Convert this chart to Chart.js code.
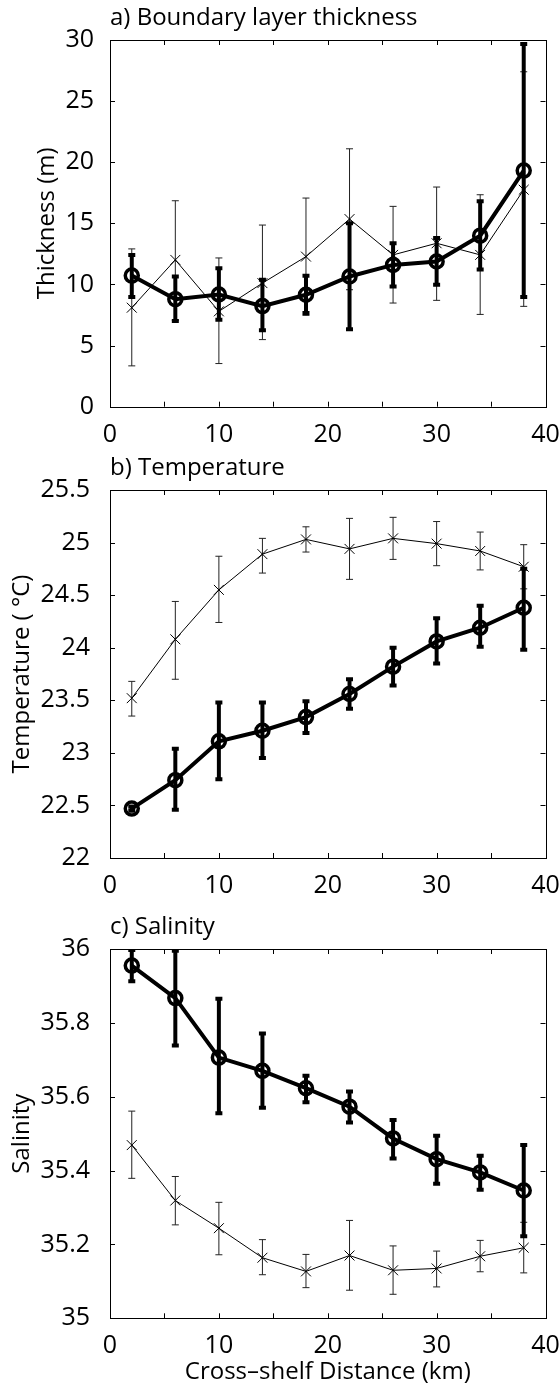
<!DOCTYPE html>
<html lang="en">
<head>
  <meta charset="UTF-8" />
  <title>Cross-shelf profiles</title>
  <style>
    html, body { margin: 0; padding: 0; background: #fff; overflow: hidden; }
    body { width: 559px; height: 1384px; position: relative; }
    canvas { position: absolute; left: 0; }
  </style>
</head>
<body>
  <canvas id="chartThickness" width="600" height="450" style="top:0px"></canvas>
  <canvas id="chartTemp" width="600" height="459" style="top:450px"></canvas>
  <canvas id="chartSalt" width="600" height="475" style="top:909px"></canvas>

  <script src="https://cdn.jsdelivr.net/npm/chart.js"></script>
  <script>
    // cross-shelf distance (km) of each bin
    const distance = [2, 6, 10, 14, 18, 22, 26, 30, 34, 38];

    // a) boundary layer thickness (m): thick line with circles, thin line with crosses
    const thickBold = [10.73, 8.80, 9.18, 8.23, 9.16, 10.65, 11.60, 11.88, 13.99, 19.32];
    const thickBoldLo = [8.97, 7.01, 7.12, 6.25, 7.66, 6.33, 9.84, 9.97, 11.22, 8.97];
    const thickBoldHi = [12.42, 10.65, 11.33, 10.38, 10.71, 15.0, 13.37, 13.80, 16.8, 29.67];
    const thickThin = [8.10, 12.01, 7.80, 10.11, 12.28, 15.35, 12.42, 13.37, 12.42, 17.75];
    const thickThinLo = [3.34, 7.07, 3.53, 5.49, 7.47, 9.57, 8.48, 8.70, 7.55, 8.21];
    const thickThinHi = [12.91, 16.85, 12.17, 14.86, 17.07, 21.1, 16.39, 17.97, 17.34, 27.4];

    // b) temperature (deg C)
    const tempBold = [22.47, 22.74, 23.11, 23.21, 23.34, 23.56, 23.82, 24.06, 24.19, 24.38];
    const tempBoldLo = [22.45, 22.46, 22.75, 22.95, 23.19, 23.42, 23.64, 23.85, 24.01, 23.98];
    const tempBoldHi = [22.49, 23.04, 23.48, 23.48, 23.49, 23.70, 24.00, 24.28, 24.40, 24.75];
    const tempThin = [23.52, 24.08, 24.55, 24.89, 25.03, 24.94, 25.04, 24.99, 24.92, 24.77];
    const tempThinLo = [23.35, 23.70, 24.24, 24.71, 24.91, 24.65, 24.84, 24.78, 24.74, 24.56];
    const tempThinHi = [23.68, 24.44, 24.87, 25.04, 25.15, 25.23, 25.24, 25.20, 25.10, 24.98];

    // c) salinity
    const saltBold = [35.955, 35.867, 35.706, 35.670, 35.623, 35.573, 35.487, 35.431, 35.395, 35.346];
    const saltBoldLo = [35.913, 35.739, 35.555, 35.570, 35.585, 35.530, 35.433, 35.364, 35.348, 35.222];
    const saltBoldHi = [35.997, 35.995, 35.865, 35.771, 35.657, 35.614, 35.537, 35.494, 35.440, 35.469];
    const saltThin = [35.469, 35.319, 35.244, 35.164, 35.127, 35.170, 35.130, 35.135, 35.168, 35.191];
    const saltThinLo = [35.379, 35.253, 35.172, 35.118, 35.083, 35.076, 35.065, 35.085, 35.126, 35.123];
    const saltThinHi = [35.561, 35.384, 35.314, 35.213, 35.173, 35.265, 35.196, 35.182, 35.211, 35.26];

    Chart.defaults.font.family = "'Open Sans', sans-serif";
    Chart.defaults.color = '#000';

    // vertical error bars with caps, drawn just under each dataset
    const errorBars = {
      id: 'errorBars',
      beforeDatasetDraw(chart, args) {
        const ds = chart.data.datasets[args.index];
        if (!ds.errLow) return;
        const { ctx, chartArea: a, scales: { x, y } } = chart;
        ctx.save();
        ctx.beginPath();
        ctx.rect(a.left, a.top, a.right - a.left, a.bottom - a.top);
        ctx.clip();
        ctx.strokeStyle = ds.errColor;
        ctx.lineWidth = ds.errWidth;
        ds.data.forEach((p, i) => {
          const px = x.getPixelForValue(p.x);
          const lo = y.getPixelForValue(ds.errLow[i]);
          const hi = y.getPixelForValue(ds.errHigh[i]);
          ctx.beginPath();
          ctx.moveTo(px, lo);
          ctx.lineTo(px, hi);
          ctx.moveTo(px - ds.capHalf, lo);
          ctx.lineTo(px + ds.capHalf, lo);
          ctx.moveTo(px - ds.capHalf, hi);
          ctx.lineTo(px + ds.capHalf, hi);
          ctx.stroke();
        });
        ctx.restore();
      }
    };

    // matlab style box with inward ticks on all four sides
    const frame = {
      id: 'frame',
      afterDraw(chart) {
        const { ctx, chartArea: a, scales: { x, y } } = chart;
        const len = 5;
        ctx.save();
        ctx.strokeStyle = '#000';
        ctx.lineWidth = 1;
        ctx.strokeRect(Math.round(a.left) + 0.5, Math.round(a.top) + 0.5,
          Math.round(a.right - a.left), Math.round(a.bottom - a.top));
        ctx.beginPath();
        x.ticks.forEach(t => {
          const px = Math.round(x.getPixelForValue(t.value)) + 0.5;
          ctx.moveTo(px, a.bottom); ctx.lineTo(px, a.bottom - len);
          ctx.moveTo(px, a.top); ctx.lineTo(px, a.top + len);
        });
        y.ticks.forEach(t => {
          const py = Math.round(y.getPixelForValue(t.value)) + 0.5;
          ctx.moveTo(a.left, py); ctx.lineTo(a.left + len, py);
          ctx.moveTo(a.right, py); ctx.lineTo(a.right - len, py);
        });
        ctx.stroke();
        ctx.restore();
      }
    };

    function points(ys) {
      return distance.map((d, i) => ({ x: d, y: ys[i] }));
    }

    function makePanel(id, o) {
      new Chart(document.getElementById(id), {
        type: 'line',
        data: {
          datasets: [{
            data: points(o.bold),
            errLow: o.boldLo, errHigh: o.boldHi,
            errColor: '#000', errWidth: 4, capHalf: 3.5,
            borderColor: '#000', borderWidth: 4,
            pointStyle: 'circle', pointRadius: 6.5, pointBorderWidth: 3.5,
            pointBackgroundColor: 'rgba(0,0,0,0)', pointBorderColor: '#000',
            order: 1
          }, {
            data: points(o.thin),
            errLow: o.thinLo, errHigh: o.thinHi,
            errColor: '#222', errWidth: 1, capHalf: 3.5,
            borderColor: '#000', borderWidth: 1,
            pointStyle: 'crossRot', pointRadius: 7, pointBorderWidth: 1,
            pointBorderColor: '#000',
            order: 2
          }]
        },
        options: {
          responsive: false,
          animation: false,
          devicePixelRatio: 1,
          events: [],
          layout: { padding: { left: 0, right: 54.5, top: 0, bottom: 0 } },
          plugins: {
            legend: { display: false },
            tooltip: { enabled: false },
            title: {
              display: true,
              text: o.title,
              align: 'start',
              fullSize: false,
              font: { size: 24, weight: 'normal' },
              padding: { top: 4, bottom: 7.2 }
            }
          },
          scales: {
            x: {
              type: 'linear',
              min: 0, max: 40,
              grid: { display: false },
              border: { display: false },
              ticks: {
                stepSize: 5,
                autoSkip: false,
                maxRotation: 0,
                padding: 5,
                font: { size: 25 },
                callback: v => (v % 10 === 0 ? v : '')
              },
              title: {
                display: !!o.xTitle,
                text: o.xTitle || '',
                font: { size: 24, lineHeight: 1 },
                padding: { top: 0, bottom: 0 }
              },
              afterFit: s => { s.height = o.xHeight; }
            },
            y: {
              min: o.yMin, max: o.yMax,
              grid: { display: false },
              border: { display: false },
              ticks: {
                stepSize: o.yStep,
                autoSkip: false,
                padding: o.yPad,
                font: { size: 25 },
                callback: v => String(+v.toFixed(2))
              },
              title: {
                display: true,
                text: o.yTitle,
                font: { size: 24 },
                padding: { top: o.yTitlePad, bottom: 0 }
              },
              afterFit: s => { s.width = 110; }
            }
          }
        },
        plugins: [errorBars, frame]
      });
    }

    makePanel('chartThickness', {
      title: 'a) Boundary layer thickness',
      yTitle: 'Thickness (m)', yTitlePad: 33,
      yMin: 0, yMax: 30, yStep: 5, yPad: 8,
      xHeight: 43.3,
      bold: thickBold, boldLo: thickBoldLo, boldHi: thickBoldHi,
      thin: thickThin, thinLo: thickThinLo, thinHi: thickThinHi
    });

    makePanel('chartTemp', {
      title: 'b) Temperature',
      yTitle: 'Temperature ( \u00B0C)', yTitlePad: 8,
      yMin: 22, yMax: 25.5, yStep: 0.5, yPad: 12,
      xHeight: 51,
      bold: tempBold, boldLo: tempBoldLo, boldHi: tempBoldHi,
      thin: tempThin, thinLo: tempThinLo, thinHi: tempThinHi
    });

    makePanel('chartSalt', {
      title: 'c) Salinity',
      yTitle: 'Salinity', yTitlePad: 8,
      yMin: 35, yMax: 36, yStep: 0.2, yPad: 12,
      xHeight: 65.7, xTitle: 'Cross\u2013shelf Distance (km)',
      bold: saltBold, boldLo: saltBoldLo, boldHi: saltBoldHi,
      thin: saltThin, thinLo: saltThinLo, thinHi: saltThinHi
    });
  </script>
</body>
</html>
